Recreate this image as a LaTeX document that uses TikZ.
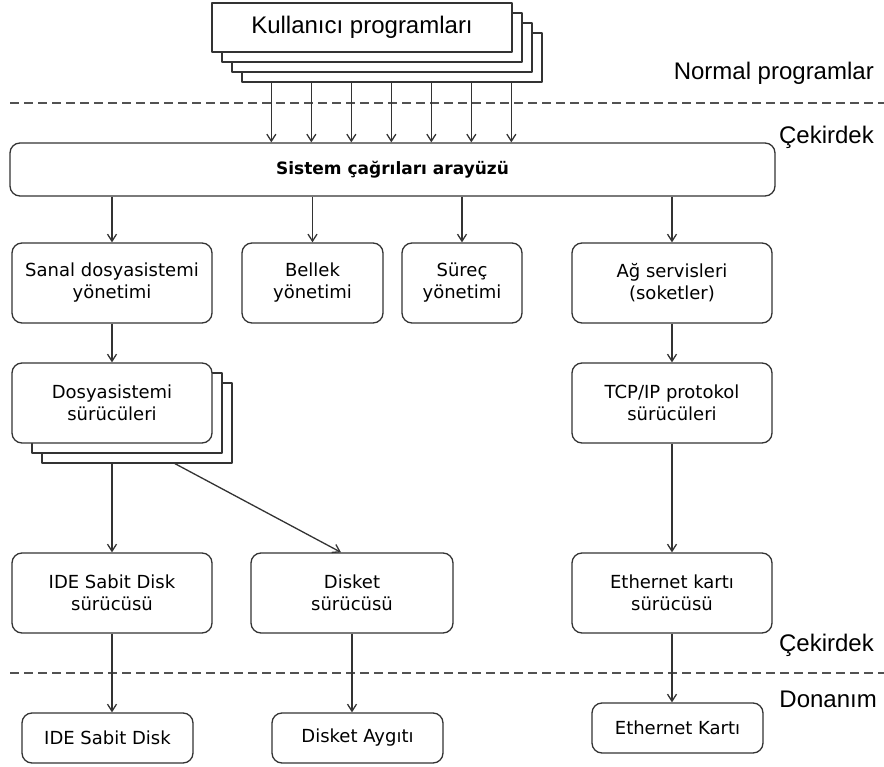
\documentclass[tikz,border=0pt]{standalone}
\usepackage{fontspec}
\setmainfont{DejaVu Sans}
\newfontfamily\labelfont{Liberation Sans}
\usetikzlibrary{arrows.meta}

\begin{document}
\begin{tikzpicture}
		[x=1pt,y=-1pt,line join=round,
		%Styles
		box/.style={draw=linecol,line width=1.3pt,rounded corners=10pt,fill=white,inner sep=0pt,align=center,font=\fontsize{18}{22}\selectfont},
		big box/.style={box,minimum width=200pt,minimum height=80pt},
		small box/.style={box,minimum width=171pt,minimum height=50pt},
		sheet/.style={draw=linecol,line width=1.3pt,fill=white,inner sep=0pt},
		prog sheet/.style={sheet,minimum width=300pt,minimum height=49pt},
		drv sheet/.style={sheet,minimum width=190pt,minimum height=80pt},
		conn/.style={draw=linecol,line width=1.3pt,-{Straight Barb[length=7pt,width=9pt]}},
		separator/.style={draw=linecol!85,line width=1.5pt,dash pattern=on 9pt off 5pt},
		layer text/.style={anchor=east,inner sep=0pt,font=\labelfont\fontsize{24}{28}\selectfont}
		]
		
		%Colors
		\colorlet{linecol}{black!80}	%boxes, arrows
		
		\useasboundingbox (0,0) rectangle (884,767);
		
		%Layers
		\draw[separator] (10,103) -- (884,103);
		\draw[separator] (10,673) -- (884,673);
		\node[layer text] (normal) at (874,73) {Normal programlar};
		\node[layer text] (kernel1) at (874,137) {Çekirdek};
		\node[layer text] (kernel2) at (874,645) {Çekirdek};
		\node[layer text] (hw) at (877,699) {Donanım};
		
		%The graphic
		\foreach \i in {3,2,1}
			\node[prog sheet] (kp\i) at (362+10*\i,27.5+10*\i) {};
		\node[prog sheet,font=\labelfont\fontsize{24}{28}\selectfont] (kp) at (362,27.5) {Kullanıcı programları};
		
		\node[box,minimum width=765pt,minimum height=53pt,font=\bfseries\fontsize{17}{20}\selectfont] (sys) at (392.5,169.5) {Sistem çağrıları arayüzü};
		
		\node[big box] (vfs) at (112,283) {Sanal dosyasistemi\\yönetimi};
		\node[box,minimum width=141pt,minimum height=80pt] (mem) at (312.5,283) {Bellek\\yönetimi};
		\node[box,minimum width=120pt,minimum height=80pt] (proc) at (462,283) {Süreç\\yönetimi};
		\node[big box] (net) at (672,283) {Ağ servisleri\\(soketler)};
		
		\node[drv sheet] (fsd2) at (137,423) {};
		\node[drv sheet] (fsd1) at (127,413) {};
		\node[big box] (fsd) at (112,403) {Dosyasistemi\\sürücüleri};
		\node[big box] (tcp) at (672,403) {TCP/IP protokol\\sürücüleri};
		
		\node[big box] (idedrv) at (112,593) {IDE Sabit Disk\\sürücüsü};
		\node[big box,minimum width=202pt] (dskdrv) at (352,593) {Disket\\sürücüsü};
		\node[big box] (ethdrv) at (672,593) {Ethernet kartı\\sürücüsü};
		
		\node[small box] (idedisk) at (107.5,738) {IDE Sabit Disk};
		\node[small box] (dskdev) at (357.5,738) {Disket Aygıtı};
		\node[small box] (ethcard) at (677.5,728) {Ethernet Kartı};
		
		\foreach \dx in {30,70,...,270}
			\draw[conn] ([xshift=\dx pt]kp3.south west) coordinate (k) -- (k |- sys.north);
		
		\path[every edge/.style=conn]
			(sys.south -| vfs.north) edge (vfs)
			(sys.south -| mem.north) edge (mem)
			(sys.south -| proc.north) edge (proc)
			(sys.south -| net.north) edge (net)
			(vfs) edge (fsd)
			(net) edge (tcp)
			(tcp) edge (ethdrv)
			(fsd2.south -| fsd.south) edge (idedrv)
			([xshift=38pt]fsd2.south) edge ([xshift=-11pt]dskdrv.north)
			(idedrv) edge (idedisk.north -| idedrv.south)
			(dskdrv) edge (dskdev.north -| dskdrv.south)
			(ethdrv) edge (ethcard.north -| ethdrv.south);
	\end{tikzpicture}
\end{document}
